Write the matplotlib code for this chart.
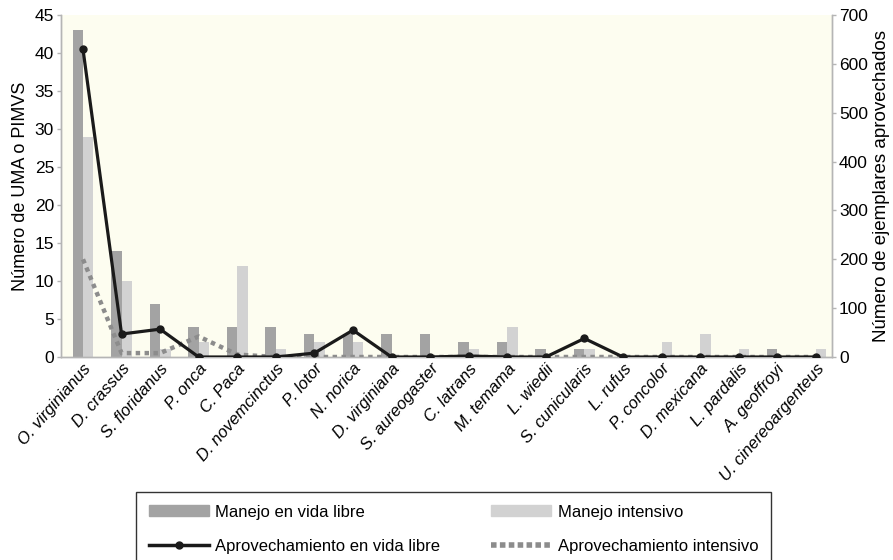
import matplotlib
matplotlib.use("Agg")
import matplotlib.pyplot as plt
from matplotlib.lines import Line2D
from matplotlib.patches import Patch
import numpy as np

species = ["O. virginianus", "D. crassus", "S. floridanus", "P. onca", "C. Paca",
           "D. novemcinctus", "P. lotor", "N. norica", "D. virginiana", "S. aureogaster",
           "C. latrans", "M. temama", "L. wiedii", "S. cunicularis", "L. rufus",
           "P. concolor", "D. mexicana", "L. pardalis", "A. geoffroyi", "U. cinereoargenteus"]
manejo_vida_libre = [43, 14, 7, 4, 4, 4, 3, 3, 3, 3, 2, 2, 1, 1, 0, 0, 0, 0, 1, 0]
manejo_intensivo = [29, 10, 1, 2, 12, 1, 2, 2, 0, 0, 1, 4, 0, 1, 0, 2, 3, 1, 0, 1]
aprov_vida_libre = [630, 47, 57, 0, 0, 0, 8, 55, 0, 0, 2, 0, 0, 38, 0, 0, 0, 0, 0, 0]
aprov_intensivo = [200, 8, 8, 42, 5, 0, 0, 0, 0, 0, 0, 0, 0, 0, 0, 0, 0, 0, 0, 0]

plt.rcParams['font.family'] = ['Liberation Sans', 'DejaVu Sans']

fig = plt.figure(figsize=(8.93, 5.6), dpi=100)
ax = fig.add_axes([61/893, 1-357/560, (832-61)/893, (357-15)/560])
ax.set_facecolor('#FDFDF0')

x = np.arange(len(species))
w = 0.27
dark = '#A3A3A3'
light = '#D2D2D2'
ax.bar(x - w/2, manejo_vida_libre, width=w, color=dark, zorder=2)
ax.bar(x + w/2, manejo_intensivo, width=w, color=light, zorder=2)
ax.set_xlim(-0.57, 19.42)
ax.set_ylim(0, 45)
ax.set_yticks(range(0, 46, 5))

ax2 = ax.twinx()
ax2.set_ylim(0, 700)
ax2.set_yticks(range(0, 701, 100))
ax2.plot(x, aprov_intensivo, color='#8C8C8C', lw=3.2, linestyle=(0, (1, 1)),
         dash_capstyle='butt', zorder=3)
ax2.plot(x, aprov_vida_libre, color='#1A1A1A', lw=2.3, marker='o', ms=5,
         zorder=4)

for a in (ax, ax2):
    a.spines['top'].set_visible(False)
    for s in ('left', 'right', 'bottom'):
        a.spines[s].set_color('#B5B5B5')
        a.spines[s].set_linewidth(1.0)
    a.tick_params(axis='y', colors='#B5B5B5', labelcolor='black', labelsize=12.5,
                  length=3, width=1, pad=2)
ax.tick_params(axis='x', length=0, pad=3)
ax.set_xticks(x)
ax.set_xticklabels(species, rotation=49, ha='right', rotation_mode='anchor',
                   fontsize=12, style='italic')

ax.set_ylabel('Número de UMA o PIMVS', fontsize=13, labelpad=4)
ax2.set_ylabel('Número de ejemplares aprovechados', fontsize=13.5, labelpad=4)

handles = [Patch(color=dark), Patch(color=light),
           Line2D([0], [0], color='#1A1A1A', lw=2.5, marker='o', ms=5),
           Line2D([0], [0], color='#8C8C8C', lw=4, linestyle=(0, (1, 0.6)),
                  dash_capstyle='butt')]
labels = ['Manejo en vida libre', 'Manejo intensivo',
          'Aprovechamiento en vida libre', 'Aprovechamiento intensivo']
order = [0, 2, 1, 3]
leg = fig.legend([handles[i] for i in order], [labels[i] for i in order],
                 loc='upper left', bbox_to_anchor=(136/893, 1-492/560), ncol=2,
                 fontsize=12, frameon=True, fancybox=False, edgecolor='black',
                 handlelength=3.6, handleheight=0.6, handletextpad=0.4,
                 columnspacing=3.05, labelspacing=1.15, borderpad=0.75,
                 borderaxespad=0)
leg.get_frame().set_linewidth(1.0)

fig.savefig('out.png', dpi=100)
